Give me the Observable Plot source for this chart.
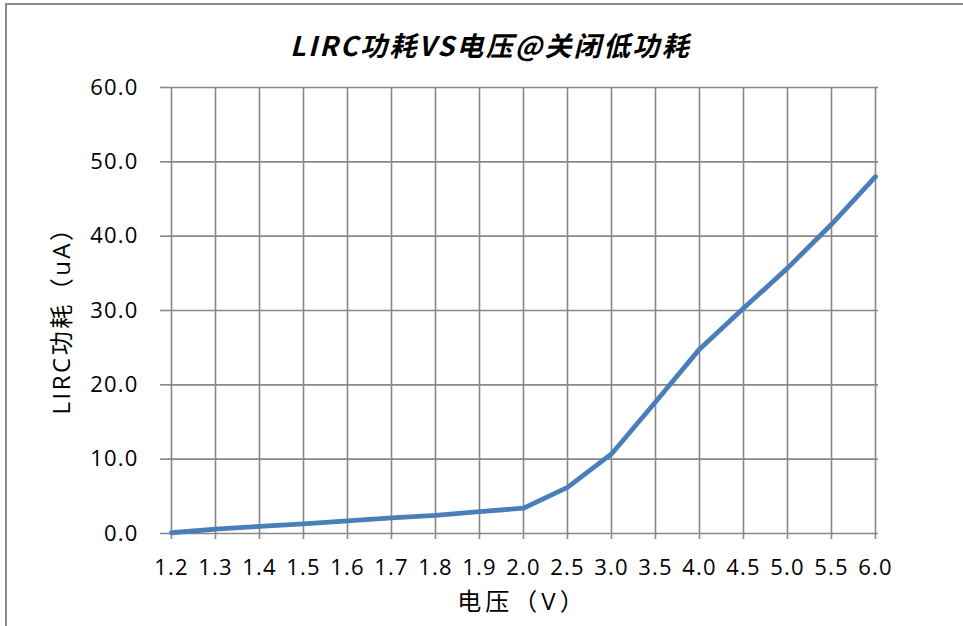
<!DOCTYPE html>
<html>
<head>
<meta charset="utf-8">
<script src="https://cdn.jsdelivr.net/npm/d3@7"></script>
<script src="https://cdn.jsdelivr.net/npm/@observablehq/plot@0.6"></script>
<style>
  body { margin: 0; background: #fff; }
  #wrap { position: relative; width: 963px; height: 626px; overflow: hidden; }
  #frame { position: absolute; left: 5px; top: 3px; right: -4px; bottom: -4px;
           border-left: 2px solid #8c8c8c; border-top: 2px solid #8c8c8c; }
  #chart { position: absolute; left: 0; top: 0; }
</style>
</head>
<body>
<div id="wrap"><div id="frame"></div><div id="chart"></div></div>
<script>
const voltages = ["1.2","1.3","1.4","1.5","1.6","1.7","1.8","1.9","2.0","2.5","3.0","3.5","4.0","4.5","5.0","5.5","6.0"];
const current  = [0.1, 0.6, 0.95, 1.3, 1.7, 2.1, 2.45, 2.95, 3.4, 6.2, 10.7, 17.7, 24.8, 30.3, 35.7, 41.6, 48.0];
const yTicks   = [0, 10, 20, 30, 40, 50, 60];
const titleText = "LIRC功耗VS电压@关闭低功耗";
const xLabel = "电压（V）";
const yLabel = "LIRC功耗（uA）";

const data = voltages.map((v, i) => ({v, c: current[i]}));
const gridColor = "#888888";

const chart = Plot.plot({
  width: 963,
  height: 626,
  marginLeft: 168,
  marginRight: 85,
  marginTop: 87,
  marginBottom: 93,
  style: {
    fontFamily: '"Open Sans", "Noto Sans CJK SC", sans-serif',
    fontSize: "22px",
    color: "#000",
    background: "transparent",
    overflow: "visible"
  },
  x: {type: "point", domain: voltages, padding: 0},
  y: {domain: [0, 60]},
  marks: [
    Plot.gridX(voltages, {stroke: gridColor, strokeOpacity: 1, strokeWidth: 1.6}),
    Plot.gridY(yTicks, {stroke: gridColor, strokeOpacity: 1, strokeWidth: 1.6}),
    Plot.axisX(voltages, {tickSize: 6, tickPadding: 20, stroke: gridColor, strokeWidth: 1.6, fill: "#000", fontSize: 22, label: null}),
    Plot.axisY(yTicks, {tickSize: 8, tickPadding: 22, tickFormat: d => d.toFixed(1), stroke: gridColor, strokeWidth: 1.6, fill: "#000", fontSize: 22, label: null}),
    Plot.line(data, {x: "v", y: "c", stroke: "#4a7ebb", strokeWidth: 4.8, strokeLinejoin: "round", strokeLinecap: "round"}),
    Plot.text([titleText], {text: d => d, frameAnchor: "top", lineAnchor: "middle", textAnchor: "middle",
      dx: -33, dy: -40, fontSize: 27, fontWeight: "bold", fontStyle: "italic",
      fontFamily: '"Noto Sans CJK SC", sans-serif', fill: "#000"}),
    Plot.text([xLabel], {text: d => d, frameAnchor: "bottom", lineAnchor: "middle", textAnchor: "middle",
      dx: -1, dy: 69, fill: "#000", fontSize: 24}),
    Plot.text([yLabel], {text: d => d, frameAnchor: "left", lineAnchor: "middle", textAnchor: "middle",
      dx: -106, dy: 4, rotate: -90, fill: "#000", fontSize: 24})
  ]
});
const spacing = {[titleText]: "2.3px", [xLabel]: "4px", [yLabel]: "2.5px"};
const tickTexts = new Set([...voltages, ...yTicks.map(d => d.toFixed(1))]);
chart.querySelectorAll("text").forEach(t => {
  const s = spacing[t.textContent];
  if (s) t.setAttribute("letter-spacing", s);
  else if (tickTexts.has(t.textContent)) t.setAttribute("letter-spacing", "1.2px");
});
document.getElementById("chart").appendChild(chart);
</script>
</body>
</html>
